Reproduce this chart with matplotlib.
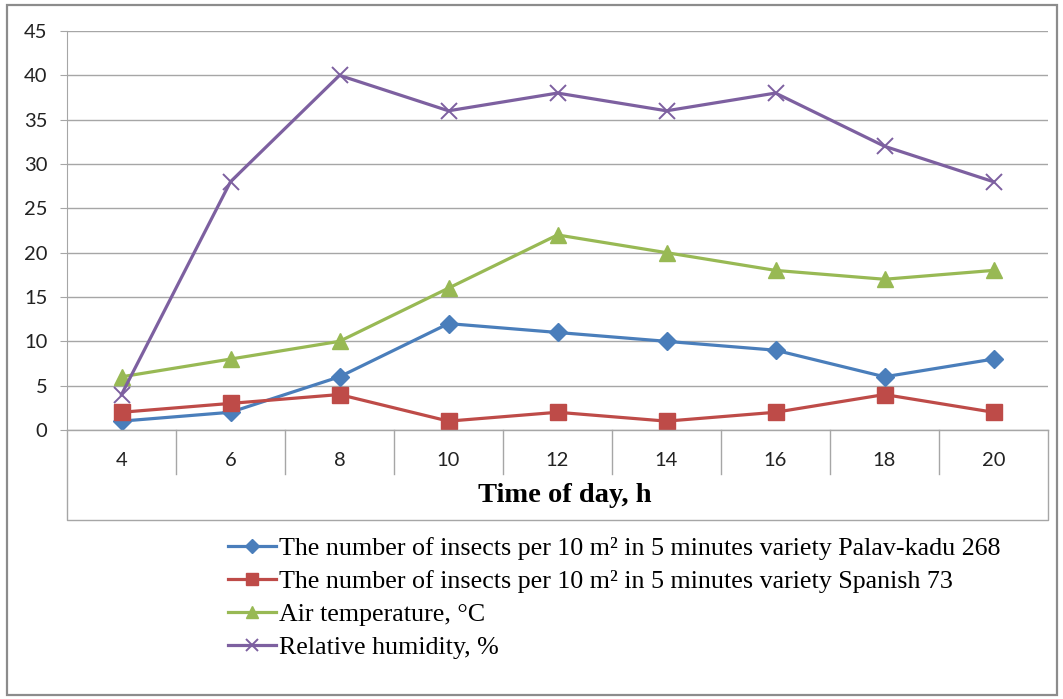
import numpy as np
import matplotlib
matplotlib.use("Agg")
import matplotlib.pyplot as plt
from matplotlib.patches import Rectangle

# Data
hours = ["4", "6", "8", "10", "12", "14", "16", "18", "20"]
palav_kadu = [1, 2, 6, 12, 11, 10, 9, 6, 8]
spanish = [2, 3, 4, 1, 2, 1, 2, 4, 2]
air_temp = [6, 8, 10, 16, 22, 20, 18, 17, 18]
humidity = [4, 28, 40, 36, 38, 36, 38, 32, 28]

labels = [
    "The number of insects per 10 m\u00b2 in 5 minutes variety Palav-kadu 268",
    "The number of insects per 10 m\u00b2 in 5 minutes variety Spanish 73",
    "Air temperature, \u00b0C",
    "Relative humidity, %",
]

W, H = 1063, 699
fig = plt.figure(figsize=(W / 100, H / 100), dpi=100)
ax = fig.add_axes([67 / W, 1 - 430 / H, (1048 - 67) / W, 399 / H])

x = np.arange(len(hours))
grid_c = "#a6a6a6"

ax.plot(x, palav_kadu, color="#4a7ebb", lw=2.3, marker="D", ms=9, label=labels[0])
ax.plot(x, spanish, color="#be4b48", lw=2.3, marker="s", ms=11.5, label=labels[1])
ax.plot(x, air_temp, color="#98b954", lw=2.3, marker="^", ms=12, label=labels[2])
ax.plot(x, humidity, color="#7d60a0", lw=2.3, marker="x", ms=11, mew=1.4, label=labels[3])

ax.set_xlim(-0.5, len(hours) - 0.5)
ax.set_ylim(0, 45)
ax.set_yticks(range(0, 46, 5))
ax.yaxis.grid(True, color=grid_c, lw=1)
ax.set_axisbelow(True)
for s in ["top", "right", "bottom"]:
    ax.spines[s].set_visible(False)
ax.spines["left"].set_color(grid_c)
ax.spines["left"].set_bounds(0, 45)
ax.tick_params(axis="y", length=5, color=grid_c, labelsize=14.5, pad=9)
for t in ax.get_yticklabels():
    t.set_fontfamily("Lato")
    t.set_color("#222222")

ax.set_xticks(x)
ax.set_xticklabels(hours, fontfamily="Lato", fontsize=14.5, color="#222222")
ax.tick_params(axis="x", length=0, pad=16)

# category table below the plot
tr = ax.get_xaxis_transform()
y_sep = -44 / 399
y_box = -90 / 399
ax.plot([-0.5, len(hours) - 0.5], [0, 0], transform=tr, color=grid_c, lw=1, clip_on=False)
for i in range(1, len(hours)):
    ax.plot([i - 0.5, i - 0.5], [0, y_sep], transform=tr, color=grid_c, lw=1, clip_on=False)
ax.plot([-0.5, -0.5, len(hours) - 0.5, len(hours) - 0.5], [0, y_box, y_box, 0],
        transform=tr, color=grid_c, lw=1, clip_on=False)
ax.text(4.07, -65 / 399, "Time of day, h", transform=tr, ha="center", va="center",
        fontfamily="Liberation Serif", fontweight="bold", fontsize=20.5)

fig.legend(loc="upper left", bbox_to_anchor=(228 / W, 1 - 537 / H), frameon=False,
           prop={"family": "Liberation Serif", "size": 18.7}, handlelength=1.85,
           handletextpad=0.12, labelspacing=0.38, borderpad=0, borderaxespad=0,
           markerscale=0.75)

fig.add_artist(Rectangle((7 / W, 4 / H), 1050 / W, 690 / H, transform=fig.transFigure,
                         fill=False, edgecolor="#8c8c8c", lw=1.6))

fig.savefig("out.png", dpi=100)
